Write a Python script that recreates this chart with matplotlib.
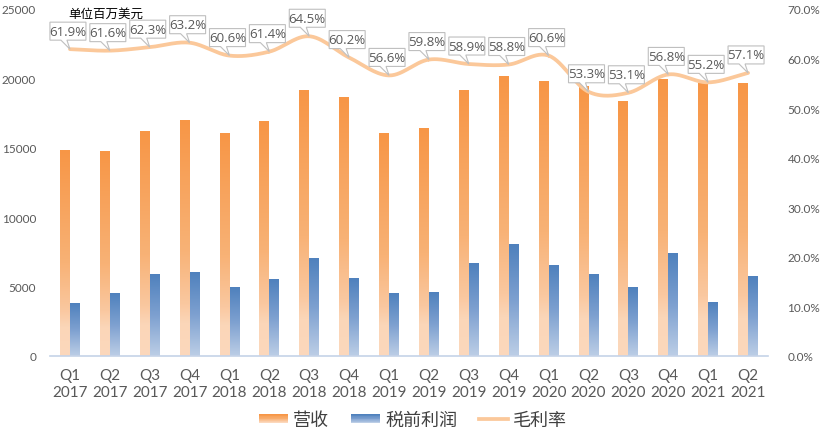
import numpy as np
import matplotlib.pyplot as plt
import matplotlib.transforms as mtransforms
from matplotlib.patches import Polygon, Rectangle
from matplotlib.lines import Line2D
from matplotlib.legend_handler import HandlerBase

# data (millions USD)
quarters = ["Q1", "Q2", "Q3", "Q4"] * 4 + ["Q1", "Q2"]
years = ["2017"] * 4 + ["2018"] * 4 + ["2019"] * 4 + ["2020"] * 4 + ["2021"] * 2
revenue = [14800, 14700, 16150, 17000, 16000, 16900, 19150, 18600, 16000,
           16400, 19150, 20150, 19800, 19450, 18300, 19950, 19650, 19600]
pretax = [3750, 4500, 5850, 6000, 4900, 5500, 7050, 5550, 4500,
          4600, 6650, 8000, 6550, 5850, 4900, 7400, 3850, 5700]
margin = [61.9, 61.6, 62.3, 63.2, 60.6, 61.4, 64.5, 60.2, 56.6,
          59.8, 58.9, 58.8, 60.6, 53.3, 53.1, 56.8, 55.2, 57.1]

orange_stops = [(0.0, (247, 150, 70)), (0.55, (248, 178, 118)),
                (0.78, (250, 200, 160)), (0.86, (251, 214, 184)), (1.0, (252, 216, 188))]
blue_stops = [(0.0, (79, 129, 189)), (0.5, (125, 160, 208)),
              (1.0, (188, 206, 230))]


def make_grad(stops, n=256):
    t = np.linspace(0, 1, n)
    pos = [s[0] for s in stops]
    cols = np.array([s[1] for s in stops]) / 255.0
    rgb = np.stack([np.interp(t, pos, cols[:, k]) for k in range(3)], axis=1)
    return rgb


orange_grad = make_grad(orange_stops)
blue_grad = make_grad(blue_stops)


def grad_bar(ax, x0, w, h, grad):
    img = grad.reshape(-1, 1, 3)
    ax.imshow(img, extent=[x0, x0 + w, 0, h], aspect="auto",
              origin="upper", zorder=2, interpolation="bilinear")


def catmull_rom(xs, ys, n=30):
    px = np.concatenate([[2 * xs[0] - xs[1]], xs, [2 * xs[-1] - xs[-2]]])
    py = np.concatenate([[2 * ys[0] - ys[1]], ys, [2 * ys[-1] - ys[-2]]])
    outx, outy = [], []
    t = np.linspace(0, 1, n)
    for i in range(1, len(px) - 2):
        for p, out in ((px, outx), (py, outy)):
            p0, p1, p2, p3 = p[i - 1], p[i], p[i + 1], p[i + 2]
            out.extend(0.5 * ((2 * p1) + (-p0 + p2) * t +
                              (2 * p0 - 5 * p1 + 4 * p2 - p3) * t ** 2 +
                              (-p0 + 3 * p1 - 3 * p2 + p3) * t ** 3))
    return np.array(outx), np.array(outy)


class GradHandler(HandlerBase):
    def __init__(self, grad):
        super().__init__()
        self.grad = grad

    def create_artists(self, legend, orig_handle, xdescent, ydescent,
                       width, height, fontsize, trans):
        arts = []
        n = 12
        h = height * 0.7
        y0 = -ydescent + (height - h) / 2
        for i in range(n):
            c = self.grad[int(i / (n - 1) * (len(self.grad) - 1))]
            r = Rectangle((-xdescent, y0 + h - (i + 1) * h / n), width, h / n + 0.05,
                          facecolor=c, edgecolor="none", transform=trans)
            arts.append(r)
        return arts


plt.rcParams["font.family"] = ["Lato", "Noto Sans CJK SC", "DejaVu Sans"]

fig = plt.figure(figsize=(8.21, 4.39), dpi=100)
ax = fig.add_axes([50 / 821, 1 - 357 / 439, 718 / 821, 347 / 439])
ax2 = ax.twinx()

x = np.arange(len(revenue))
bw = 0.25
for i in x:
    grad_bar(ax, i - bw, bw, revenue[i], orange_grad)
    grad_bar(ax, i, bw, pretax[i], blue_grad)

ax.set_xlim(-0.5, len(revenue) - 0.5)
ax.set_ylim(0, 25000)
ax.set_yticks(np.arange(0, 25001, 5000))
ax.set_xticks(x)
ax.set_xticklabels([q + "\n" + y for q, y in zip(quarters, years)],
                   fontsize=11, color="#595959", linespacing=1.2)
ax.tick_params(axis="y", length=0, labelsize=8.5, labelcolor="#595959", pad=10)
ax.tick_params(axis="x", length=0, pad=9)
for s in ["top", "right", "left"]:
    ax.spines[s].set_visible(False)
ax.spines["bottom"].set_color("#C5D3E8")
ax.spines["bottom"].set_linewidth(1.2)

# margin line
sx, sy = catmull_rom(x.astype(float), np.array(margin))
ax2.plot(sx, sy, color="#FBC89A", lw=2.7, solid_capstyle="round", zorder=3)
ax2.set_ylim(0, 70)
ax2.set_yticks(np.arange(0, 70.1, 10))
ax2.set_yticklabels([f"{v:.1f}%" for v in np.arange(0, 70.1, 10)])
ax2.tick_params(axis="y", length=0, labelsize=8.5, labelcolor="#595959", pad=14)
for s in ["top", "right", "left", "bottom"]:
    ax2.spines[s].set_visible(False)

# callouts (shape in pixels relative to the point)
shape = np.array([[-20, 9], [-20, 27], [16, 27], [16, 9], [-3, 9], [0, 0], [-9, 9]]) / 100.0
for i, m in enumerate(margin):
    tr = fig.dpi_scale_trans + mtransforms.ScaledTranslation(i, m, ax2.transData)
    ax2.add_patch(Polygon(shape, closed=True, transform=tr, facecolor="white",
                          edgecolor="#BFBFBF", lw=0.8, zorder=5, clip_on=False))
    ax2.text(-0.02, 0.18, f"{m}%", transform=tr, ha="center", va="center",
             fontsize=9.5, color="#595959", zorder=6, family="Open Sans")

fig.text(68 / 821, 1 - 14 / 439, "单位百万美元", fontsize=9, color="black",
         va="center", ha="left", family="Noto Sans CJK SC")

h_rev = Rectangle((0, 0), 1, 1)
h_pre = Rectangle((0, 0), 1, 1)
h_mar = Line2D([], [], color="#FBC89A", lw=2.7)
fig.legend([h_rev, h_pre, h_mar], ["营收", "税前利润", "毛利率"],
           handler_map={h_rev: GradHandler(orange_grad), h_pre: GradHandler(blue_grad)},
           loc="center", bbox_to_anchor=(413 / 821, 1 - 421 / 439), ncol=3,
           frameon=False, prop={"family": "Noto Sans CJK SC", "size": 13},
           handlelength=1.6, handletextpad=0.3, columnspacing=1.2,
           labelcolor="#404040")

fig.savefig("out.png", dpi=100)
